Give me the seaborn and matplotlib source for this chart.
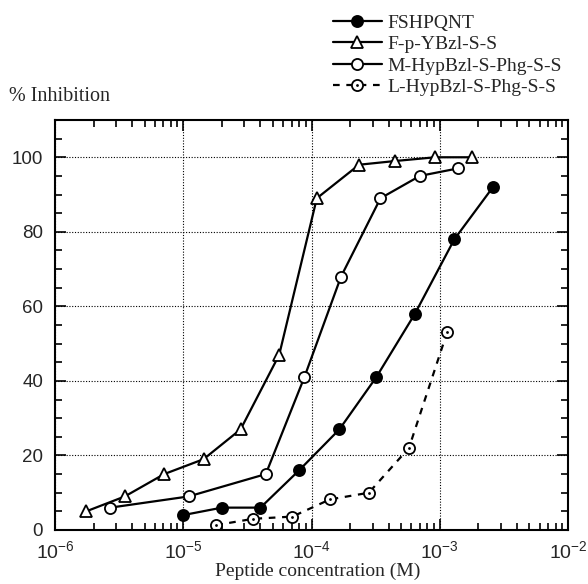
import matplotlib
matplotlib.use("Agg")
import matplotlib.pyplot as plt
import matplotlib.ticker as mticker
import seaborn as sns

fsh_x = [1.0e-5, 2.0e-5, 4.0e-5, 8.0e-5, 1.65e-4, 3.2e-4, 6.4e-4, 1.3e-3, 2.6e-3]
fsh_y = [4, 6, 6, 16, 27, 41, 58, 78, 92]

tyr_x = [1.75e-6, 3.5e-6, 7.1e-6, 1.44e-5, 2.8e-5, 5.6e-5, 1.1e-4, 2.35e-4,
         4.5e-4, 9.2e-4, 1.8e-3]
tyr_y = [5, 9, 15, 19, 27, 47, 89, 98, 99, 100, 100]

m_hyp_x = [2.7e-6, 1.1e-5, 4.4e-5, 8.8e-5, 1.7e-4, 3.45e-4, 7.0e-4, 1.38e-3]
m_hyp_y = [6, 9, 15, 41, 68, 89, 95, 97]

l_hyp_x = [1.8e-5, 3.5e-5, 7.1e-5, 1.39e-4, 2.8e-4, 5.75e-4, 1.14e-3]
l_hyp_y = [1.3, 3, 3.6, 8.2, 10, 22, 53]

labels = ["FSHPQNT", "F-p-YBzl-S-S", "M-HypBzl-S-Phg-S-S", "L-HypBzl-S-Phg-S-S"]

sns.set_style("ticks")
plt.rcParams["font.family"] = ["Liberation Sans", "DejaVu Sans"]
plt.rcParams["mathtext.fontset"] = "custom"
plt.rcParams["mathtext.rm"] = "Liberation Sans"
plt.rcParams["mathtext.it"] = "Liberation Sans:italic"
plt.rcParams["mathtext.bf"] = "Liberation Sans:bold"

fig = plt.figure(figsize=(5.88, 5.84), dpi=100)
ax = fig.add_axes([55 / 588, 1 - 530 / 584, 513 / 588, 410 / 584])

line_kw = dict(color="black", linewidth=1.6, markersize=8,
               markeredgecolor="black", markeredgewidth=1.3,
               errorbar=None, sort=False)

sns.lineplot(x=fsh_x, y=fsh_y, ax=ax, marker="o",
             markerfacecolor="black", **line_kw)
sns.lineplot(x=tyr_x, y=tyr_y, ax=ax, marker="^",
             markerfacecolor="white", **line_kw)
sns.lineplot(x=m_hyp_x, y=m_hyp_y, ax=ax, marker="o",
             markerfacecolor="white", **line_kw)
sns.lineplot(x=l_hyp_x, y=l_hyp_y, ax=ax, marker="o", linestyle=(0, (3, 3)),
             markerfacecolor="white", **line_kw)
# centre dots of the L- series
sns.lineplot(x=l_hyp_x, y=l_hyp_y, ax=ax, marker="o", linestyle="none",
             color="black", markersize=2, markeredgewidth=0,
             markerfacecolor="black", errorbar=None, sort=False)

lines = ax.get_lines()
handles = [lines[0], lines[1], lines[2], (lines[3], lines[4])]

ax.set_xscale("log")
ax.set_xlim(1e-6, 1e-2)
ax.set_ylim(0, 110)
ax.set_yticks([0, 20, 40, 60, 80, 100])
ax.yaxis.set_minor_locator(mticker.MultipleLocator(5))
ax.xaxis.set_major_locator(mticker.LogLocator(base=10, numticks=10))
ax.xaxis.set_minor_locator(mticker.LogLocator(base=10, subs=range(2, 10), numticks=20))
ax.xaxis.set_minor_formatter(mticker.NullFormatter())

ax.grid(True, which="major", color="black", linestyle=(0, (1, 1.5)), linewidth=0.8)
ax.tick_params(which="both", direction="in", top=True, right=True,
               color="black", width=1.2)
ax.tick_params(which="major", length=8, labelsize=13.5)
ax.tick_params(axis="x", which="major", pad=7, labelsize=14)
ax.tick_params(axis="y", which="major", pad=8.5)
ax.tick_params(which="minor", length=5)
for s in ax.spines.values():
    s.set_linewidth(1.5)
    s.set_color("black")
ax.set_xlabel("")
ax.set_ylabel("")

serif = ["Liberation Serif", "DejaVu Serif"]
fig.text(318 / 588, 1 - 576 / 584, "Peptide concentration (M)",
         ha="center", va="baseline", fontsize=14, family=serif)
fig.text(9 / 588, 1 - 97 / 584, "% Inhibition",
         ha="left", va="center", fontsize=14.5, family=serif)

fig.legend(handles, labels, loc="upper left",
           bbox_to_anchor=(333 / 588, 1 - 14 / 584), frameon=False,
           borderpad=0, borderaxespad=0, handlelength=2.5, handletextpad=0.3,
           labelspacing=0.2, prop={"family": serif, "size": 14})

fig.savefig("out.png", dpi=100)
